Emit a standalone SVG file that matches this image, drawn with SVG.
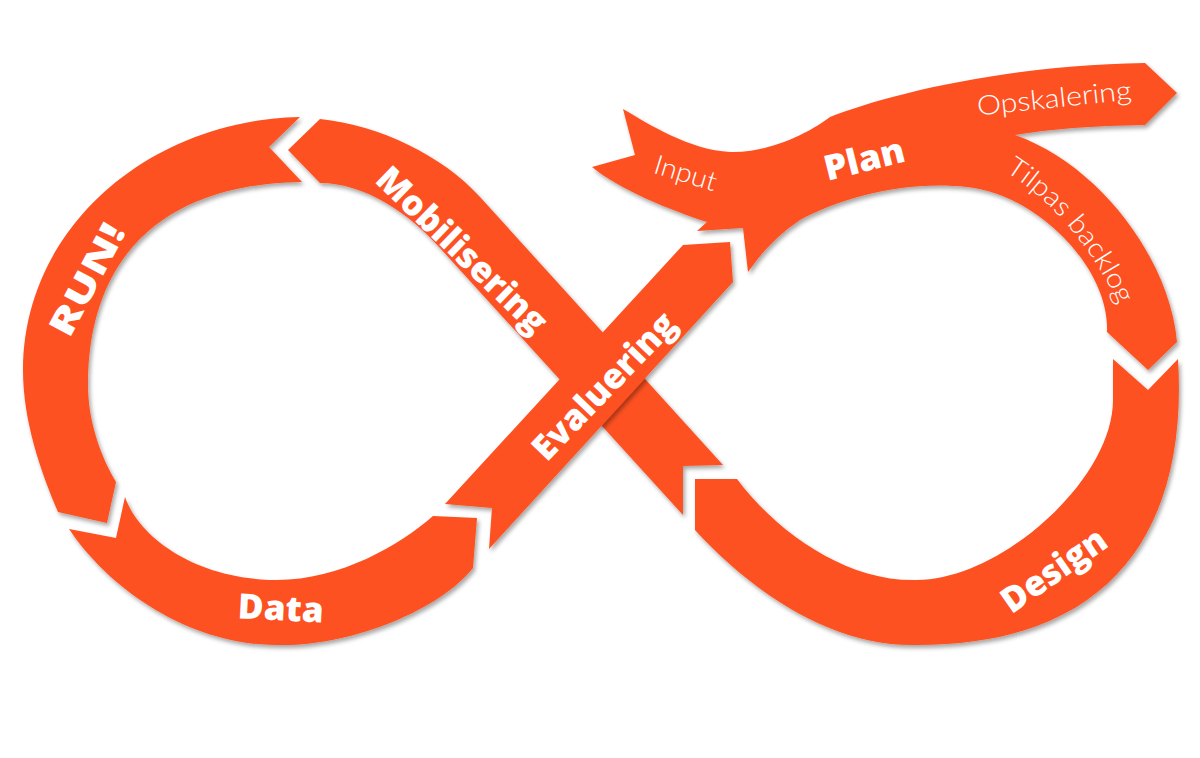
<svg xmlns="http://www.w3.org/2000/svg" width="1200" height="758" viewBox="0 0 1200 758">
<defs>
<filter id="sh" x="-10%" y="-10%" width="120%" height="120%">
<feDropShadow dx="2" dy="3" stdDeviation="2" flood-color="#000" flood-opacity="0.35"/>
</filter>
<path id="tilpasPath" d="M 1005 171 Q 1080 219 1122 312"/>
<style>
.band{fill:#FE5120;filter:url(#sh)}
.bold{font-family:"Open Sans","Lato","Liberation Sans",sans-serif;font-weight:800;fill:#fff;font-size:35px;text-anchor:middle;dominant-baseline:central}
.light{font-family:"Lato","Open Sans","Liberation Sans",sans-serif;font-weight:300;fill:#fff;font-size:27px;text-anchor:middle;dominant-baseline:central}
</style>
</defs>
<rect width="1200" height="758" fill="#fff"/>

<g id="seg-run">
<path class="band" d="M 300 117 C 147 120 23 230 23 370 C 23 420 40 470 58 512 L 107 523 L 116 482 C 100 455 88 420 88 385 C 88 260 160 184 302 182 L 269 147 Z"/>
<text class="bold" font-size="43" transform="translate(86,279) rotate(-62)" textLength="122" lengthAdjust="spacingAndGlyphs">RUN!</text>
</g>

<g id="seg-data">
<path class="band" d="M 69 529 L 116 538 L 125 497 C 140 540 200 580 277 580 C 340 580 400 545 433 516 L 477 518 L 473 568 C 440 610 350 647 277 645 C 190 645 110 590 69 529 Z"/>
<text class="bold" transform="translate(281,607) rotate(3)" textLength="86" lengthAdjust="spacingAndGlyphs">Data</text>
</g>

<g id="seg-mobilisering">
<path class="band" d="M 288 150 L 320 119 C 380 125 443 156 480 197 L 723 465 L 683 466 L 683 515 L 440 248 C 410 214 365 183 320 183 Z"/>
<text class="bold" transform="translate(463,249) rotate(44)" textLength="222" lengthAdjust="spacingAndGlyphs">Mobilisering</text>
</g>

<g id="seg-evaluering">
<path class="band" d="M 445 504 L 683 245 L 730 242 L 733 282 L 489 549 L 492 508 Z"/>
<text class="bold" transform="translate(603,385) rotate(-46)" textLength="190" lengthAdjust="spacingAndGlyphs">Evaluering</text>
</g>

<g id="seg-plan">
<path class="band" d="M 623 109 C 650 125 690 150 730 152 C 765 153 805 136 830 117 C 880 97 1000 65 1145 63 L 1177 93 L 1145 125 Q 1067 126 1015 135 C 1100 165 1170 260 1177 342 L 1148 370 L 1107 332 C 1110 270 1040 195 967 187 C 905 180 840 198 800 220 Q 770 240 748 272 L 743 228 L 697 231 L 707 222 C 670 210 620 190 592 167 L 635 155 Z"/>
<text class="bold" transform="translate(864,158) rotate(-14)" textLength="82" lengthAdjust="spacingAndGlyphs">Plan</text>
<text class="light" font-size="28" transform="translate(686,172) rotate(17)" textLength="64" lengthAdjust="spacingAndGlyphs">Input</text>
<text class="light" font-size="28" transform="translate(1054,97) rotate(-6)" textLength="155" lengthAdjust="spacingAndGlyphs">Opskalering</text>
<text class="light" style="text-anchor:start;dominant-baseline:auto" font-size="28"><textPath href="#tilpasPath" textLength="178" lengthAdjust="spacingAndGlyphs">Tilpas backlog</textPath></text>
</g>

<g id="seg-design">
<path class="band" d="M 695 479 L 737 479 C 775 530 845 582 917 580 C 1000 580 1113 480 1113 400 L 1113 359 L 1148 390 L 1178 359 C 1188 520 1120 645 917 645 C 830 647 750 590 695 530 Z"/>
<text class="bold" transform="translate(1053,569) rotate(-35)" textLength="120" lengthAdjust="spacingAndGlyphs">Design</text>
</g>
</svg>
